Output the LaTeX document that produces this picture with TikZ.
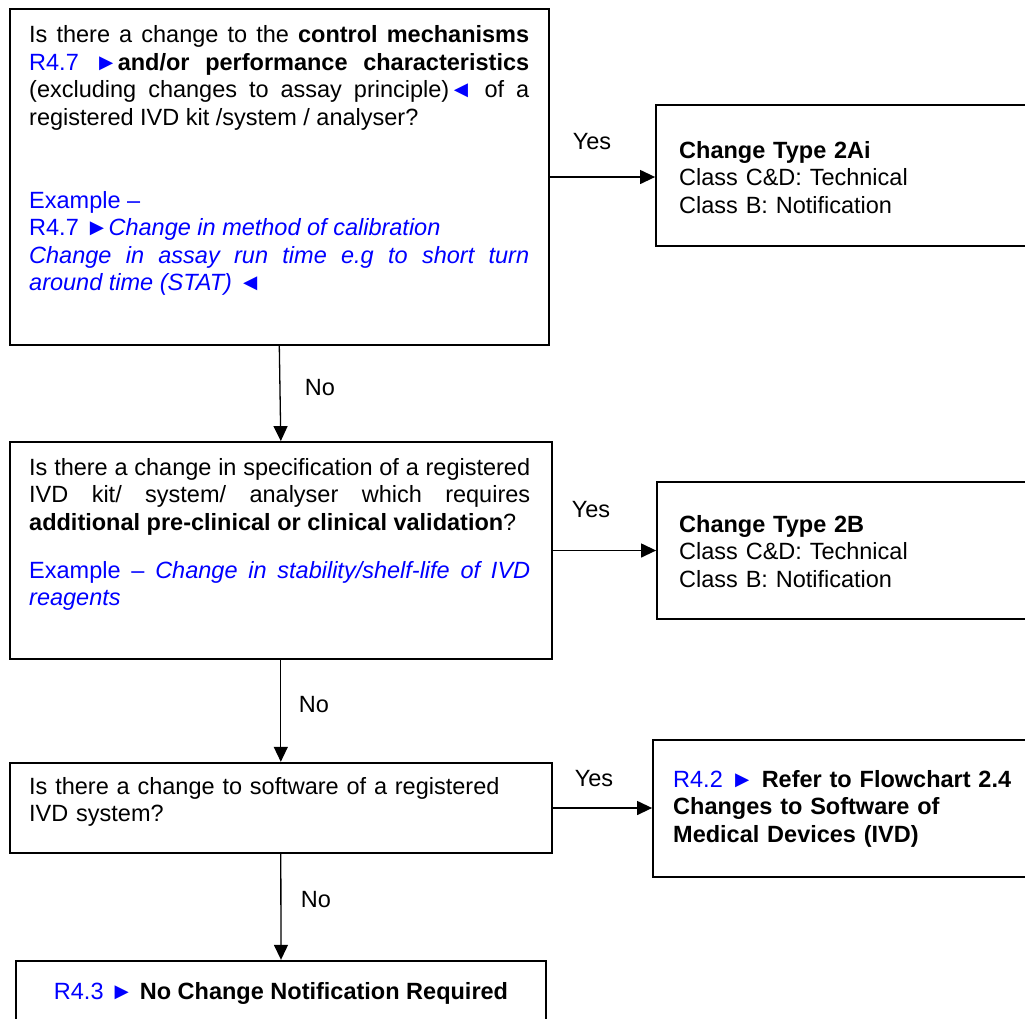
\documentclass[tikz,border=0pt]{standalone}
\usepackage{fontspec}
\setmainfont{Liberation Sans}
\usetikzlibrary{arrows.meta,fit,calc}
\definecolor{refblue}{RGB}{0,0,255}
\begin{document}
\begin{tikzpicture}[x=1pt,y=-1pt,
  box/.style={draw=black,line width=1.8pt,inner sep=0pt},
  arr/.style={draw=black,line width=1.3pt,-{Triangle[length=15pt,width=14pt]}},
  txt/.style={inner sep=0pt,anchor=base west,align=justify,font=\fontsize{23.5}{27.6}\selectfont},
  lbl/.style={inner sep=0pt,font=\fontsize{23.5}{27.6}\selectfont}]
\useasboundingbox (0,0) rectangle (1025,1018);
% boxes
\node[box,fit={(9.6,9) (549,345)}] (b1) {};
\node[box,fit={(656,105) (1035,246)}] (b2a) {};
\node[box,fit={(9.6,442) (552,659)}] (b2) {};
\node[box,fit={(657,482) (1035,619)}] (b2b) {};
\node[box,fit={(9.6,762.7) (552,853.3)}] (b3) {};
\node[box,fit={(653,740) (1035,877)}] (b42) {};
\node[box,fit={(16,960.7) (546,1035)}] (b4) {};
% texts
\node[txt,text width=500pt] (t1) at (29,42.7) {Is there a change to the \textbf{control mechanisms}\linebreak
{\color{refblue}R4.7 ►}\textbf{and/or performance characteristics}\linebreak
(excluding changes to assay principle){\color{refblue}◄} of a\linebreak
registered IVD kit /system / analyser?\par
\vspace{55pt}
{\color{refblue}Example –\\
R4.7 ►\textit{Change in method of calibration}\\
\textit{Change in assay run time e.g to short turn}\linebreak
\textit{around time (STAT) }◄}};
\node[txt,text width=330pt,align=left] (t2a) at (679,158) {\textbf{Change Type 2Ai}\\Class C\&D: Technical\\Class B: Notification};
\node[txt,text width=501pt] (t2) at (29,475) {Is there a change in specification of a registered\linebreak
IVD kit/ system/ analyser which requires\linebreak
\textbf{additional pre-clinical or clinical validation}?\par
\vspace{20.4pt}
{\color{refblue}Example – \textit{Change in stability/shelf-life of IVD}\linebreak
\textit{reagents}}};
\node[txt,text width=330pt,align=left] (t2b) at (679,532) {\textbf{Change Type 2B}\\Class C\&D: Technical\\Class B: Notification};
\node[txt,text width=500pt,align=left] (t3) at (29,794) {Is there a change to software of a registered\\IVD system?};
\node[txt,text width=350pt,align=left] (t42) at (673,787) {{\color{refblue}R4.2 ►} \textbf{Refer to Flowchart 2.4}\\\textbf{Changes to Software of}\\\textbf{Medical Devices (IVD)}};
\node[lbl,anchor=base] (t4) at (281,999) {{\color{refblue}R4.3 ►} \textbf{No Change Notification Required}};
% connectors
\draw[arr] (b1.south) -- (b2.north);
\draw[arr] (b2.south) -- (b3.north);
\draw[arr] (b3.south) -- (b4.north);
\draw[arr] (b1.east) -- (b1.east -| b2a.west);
\draw[arr] (b2.east) -- (b2.east -| b2b.west);
\draw[arr] (b3.east) -- (b3.east -| b42.west);
% labels
\node[lbl] (yes1) at (592,142) {Yes};
\node[lbl] (yes2) at (591,510) {Yes};
\node[lbl] (yes3) at (594,779) {Yes};
\node[lbl] (no1) at (320,388) {No};
\node[lbl] (no2) at (314,705) {No};
\node[lbl] (no3) at (316,900) {No};
\end{tikzpicture}
\end{document}
